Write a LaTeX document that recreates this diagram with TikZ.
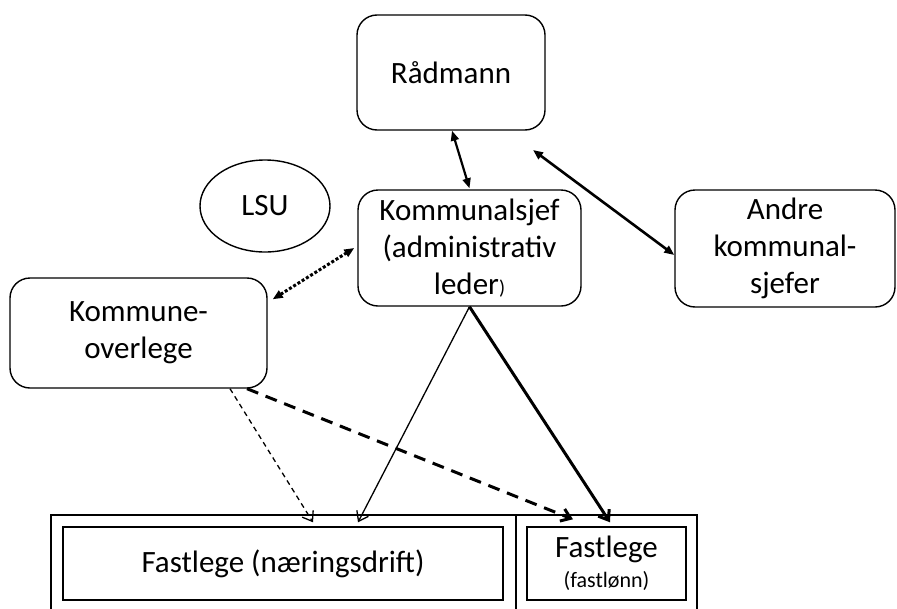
\documentclass[tikz,border=0pt]{standalone}
\usepackage{fontspec}
\setmainfont{Carlito}
\usetikzlibrary{arrows.meta,shapes.geometric}
\begin{document}
\begin{tikzpicture}[x=1pt,y=-1pt,
  txt/.style={font=\fontsize{31}{37}\selectfont, align=center, text=black},
  rbox/.style={txt, draw=black, line width=1.4pt, rounded corners=20pt, inner sep=0pt},
  sbox/.style={txt, draw=black, line width=1.4pt, inner sep=0pt},
  dbl/.style={{Triangle[length=10pt,width=8pt]}-{Triangle[length=10pt,width=8pt]}},
  barb/.style={-{Straight Barb[length=9pt,width=13pt]}},
]
\useasboundingbox (0,0) rectangle (897,608);
\fill[white] (0,0) rectangle (897,608);

% nodes
\node[rbox, minimum width=188pt, minimum height=115pt] (rad) at (451,72.5) {\raisebox{-3pt}{Rådmann}};
\node[rbox, minimum width=223pt, minimum height=116pt] (ks) at (469.5,248) {Kommunalsjef\\(administrativ\\leder{\fontsize{20}{20}\selectfont)}};
\node[rbox, minimum width=220pt, minimum height=117pt] (andre) at (785,248.5) {Andre\\kommunal-\\sjefer};
\node[rbox, minimum width=257pt, minimum height=110pt] (ko) at (138.5,333) {Kommune-\\overlege};
\node[txt, draw=black, line width=1.4pt, ellipse, minimum width=130pt, minimum height=92pt, inner sep=0pt] (lsu) at (265,206) {LSU};

% bottom frame
\draw[line width=1.4pt] (51,515) rectangle (697,640);
\draw[line width=1.4pt] (516,515) -- (516,640);
\node[sbox, minimum width=440pt, minimum height=73pt] (fl) at (283,563.5) {Fastlege (næringsdrift)};
\node[sbox, minimum width=159pt, minimum height=73pt] (fr) at (606.5,563.5) {Fastlege\\[-7pt]{\fontsize{22}{24}\selectfont (fastlønn)}};

% connectors
\coordinate (radar) at (533,150);
\draw[dbl, line width=2.2pt] ([xshift=1pt]rad.south) -- ([yshift=1pt]ks.north);
\draw[dbl, line width=2.6pt] (radar) -- ([shift={(0pt,-6.5pt)}]andre.west);
\draw[dbl, line width=3pt, dash pattern=on 3pt off 2pt] ([shift={(5pt,-22pt)}]ko.north east) -- ([xshift=-3pt]ks.west);
\draw[barb, line width=1.3pt] (ks.south) -- ([shift={(75pt,4pt)}]fl.north);
\draw[barb, line width=3pt] (ks.south) -- ([shift={(3.5pt,4pt)}]fr.north);
\draw[barb, line width=1.3pt, dash pattern=on 5pt off 4pt] ([xshift=91.5pt]ko.south) -- ([shift={(30pt,4pt)}]fl.north);
\draw[barb, line width=3pt, dash pattern=on 12pt off 8pt] ([xshift=108.5pt]ko.south) -- ([shift={(-33.5pt,7pt)}]fr.north);
\end{tikzpicture}
\end{document}
